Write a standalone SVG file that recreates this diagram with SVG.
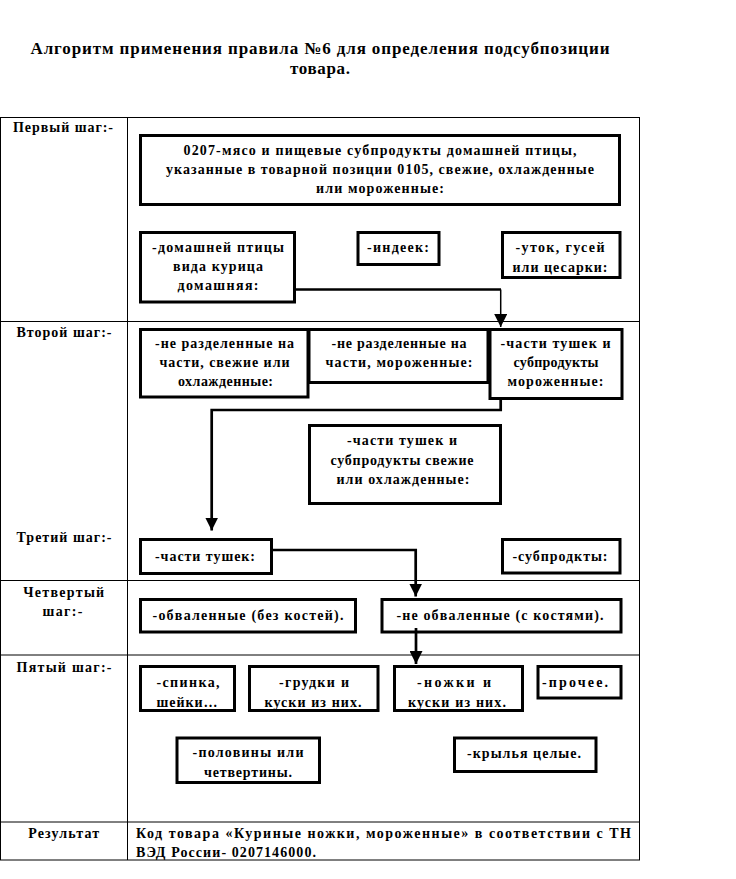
<svg xmlns="http://www.w3.org/2000/svg" width="736" height="879" viewBox="0 0 736 879">
<defs>
<style>
.bg{fill:#fff}
.grid{fill:none;stroke:#000;stroke-width:1}
.box{fill:#fff;stroke:#000;stroke-width:3}
.t{font-family:"Liberation Serif","Times New Roman",serif;font-weight:bold;font-size:14px;text-anchor:middle;fill:#000}
.lbl{font-family:"Liberation Serif","Times New Roman",serif;font-weight:bold;font-size:14px;text-anchor:middle;fill:#000}
.res{font-family:"Liberation Serif","Times New Roman",serif;font-weight:bold;font-size:14px;fill:#000}
.title{font-family:"Liberation Serif","Times New Roman",serif;font-weight:bold;font-size:17px;text-anchor:middle;fill:#000}
.c{fill:none;stroke:#000;stroke-width:2.7}
.thin{fill:none;stroke:#000;stroke-width:1.5}
</style>
<marker id="ah" markerUnits="userSpaceOnUse" markerWidth="13" markerHeight="13" refX="13" refY="6.5" orient="auto">
<path d="M0,0 L13,6.5 L0,13 Z" fill="#000"/>
</marker>
</defs>
<rect class="bg" x="0" y="0" width="736" height="879"/>

<g id="title">
<text class="title" x="320" y="54" textLength="579">Алгоритм применения правила №6 для определения подсубпозиции</text>
<text class="title" x="320" y="74" textLength="60">товара.</text>
</g>

<g id="table">
<rect class="grid" x="0.5" y="117.5" width="639" height="742.5"/>
<line class="grid" x1="127.5" y1="117.5" x2="127.5" y2="860"/>
<line class="grid" x1="0.5" y1="321.5" x2="639.5" y2="321.5"/>
<line class="grid" x1="0.5" y1="580.5" x2="639.5" y2="580.5"/>
<line class="grid" x1="0.5" y1="655" x2="639.5" y2="655"/>
<line class="grid" x1="0.5" y1="822" x2="639.5" y2="822"/>
<text class="lbl" x="63" y="131.5" textLength="100">Первый шаг:-</text>
<text class="lbl" x="64" y="337" textLength="95">Второй шаг:-</text>
<text class="lbl" x="64" y="541.5" textLength="95">Третий шаг:-</text>
<text class="lbl" x="63.7" y="597" textLength="81">Четвертый</text>
<text class="lbl" x="62.5" y="615.5" textLength="40">шаг:-</text>
<text class="lbl" x="64" y="671.5" textLength="95">Пятый шаг:-</text>
<text class="lbl" x="63.7" y="838" textLength="71">Результат</text>
<text class="res" x="136" y="838" textLength="495">Код товара «Куриные ножки, мороженные» в соответствии с ТН</text>
<text class="res" x="136" y="857" textLength="180">ВЭД России- 0207146000.</text>
</g>

<g id="n-main">
<rect class="box" x="140.5" y="135.5" width="479" height="69"/>
<text class="t" x="380" y="155" textLength="393">0207-мясо и пищевые субпродукты домашней птицы,</text>
<text class="t" x="380" y="174" textLength="428">указанные в товарной позиции 0105, свежие, охлажденные</text>
<text class="t" x="380" y="193" textLength="128">или мороженные:</text>
</g>
<g id="n-kuritsa">
<rect class="box" x="140.5" y="232.5" width="154" height="69.5"/>
<text class="t" x="218" y="252" textLength="132">-домашней птицы</text>
<text class="t" x="218" y="271" textLength="90">вида курица</text>
<text class="t" x="218" y="290" textLength="81">домашняя:</text>
</g>
<g id="n-indeek">
<rect class="box" x="358" y="232.5" width="81" height="32"/>
<text class="t" x="398" y="252" textLength="62">-индеек:</text>
</g>
<g id="n-utok">
<rect class="box" x="502.5" y="232.5" width="117.5" height="45"/>
<text class="t" x="560" y="252" textLength="89">-уток, гусей</text>
<text class="t" x="560" y="271.5" textLength="95">или цесарки:</text>
</g>

<g id="n-nerazd-moroz">
<rect class="box" x="309" y="329.5" width="179" height="53"/>
<text class="t" x="399" y="348" textLength="135">-не разделенные на</text>
<text class="t" x="399" y="367" textLength="147">части, мороженные:</text>
</g>
<g id="n-nerazd-svezh">
<rect class="box" x="140.5" y="329.5" width="167.5" height="67.5"/>
<text class="t" x="224.5" y="348" textLength="139">-не разделенные на</text>
<text class="t" x="224.5" y="367" textLength="130">части, свежие или</text>
<text class="t" x="225.5" y="386" textLength="95">охлажденные:</text>
</g>
<g id="n-chasti-moroz">
<rect class="box" x="490" y="329.5" width="132" height="69"/>
<text class="t" x="555.5" y="348" textLength="110">-части тушек и</text>
<text class="t" x="556" y="367" textLength="85">субпродукты</text>
<text class="t" x="555.5" y="386" textLength="96">мороженные:</text>
</g>
<g id="n-chasti-svezh">
<rect class="box" x="309.5" y="425.5" width="191" height="78"/>
<text class="t" x="402" y="445" textLength="110">-части тушек и</text>
<text class="t" x="402" y="465" textLength="143">субпродукты свежие</text>
<text class="t" x="403" y="484" textLength="133">или охлажденные:</text>
</g>

<g id="n-chasti-tushek">
<rect class="box" x="140.5" y="539.5" width="131" height="34"/>
<text class="t" x="205" y="561" textLength="100">-части тушек:</text>
</g>
<g id="n-subprodukty">
<rect class="box" x="502.5" y="539.5" width="117.5" height="33.5"/>
<text class="t" x="560" y="561" textLength="95">-субпродкты:</text>
</g>

<g id="n-obvalennye">
<rect class="box" x="140.5" y="599.5" width="215" height="32.5"/>
<text class="t" x="248" y="620" textLength="191">-обваленные  (без костей).</text>
</g>
<g id="n-ne-obvalennye">
<rect class="box" x="382" y="599.5" width="239" height="32.5"/>
<text class="t" x="500" y="620" textLength="207">-не обваленные  (с костями).</text>
</g>

<g id="n-spinka">
<rect class="box" x="140.5" y="666.5" width="94" height="44"/>
<text class="t" x="188" y="686.5" textLength="63">-спинка,</text>
<text class="t" x="187" y="706.5" textLength="61">шейки…</text>
</g>
<g id="n-grudki">
<rect class="box" x="249.5" y="666.5" width="128.5" height="44"/>
<text class="t" x="314" y="686.5" textLength="70">-грудки и</text>
<text class="t" x="313" y="706.5" textLength="97">куски из них.</text>
</g>
<g id="n-nozhki">
<rect class="box" x="394.5" y="666.5" width="128" height="44"/>
<text class="t" x="454" y="686.5" textLength="74">-ножки и</text>
<text class="t" x="457" y="706.5" textLength="98">куски из них.</text>
</g>
<g id="n-prochee">
<rect class="box" x="538" y="666.5" width="83" height="31.5"/>
<text class="t" x="575" y="686.5" textLength="66">-прочее.</text>
</g>
<g id="n-poloviny">
<rect class="box" x="177" y="738" width="142.5" height="44.5"/>
<text class="t" x="248" y="757" textLength="111">-половины или</text>
<text class="t" x="248" y="777" textLength="88">четвертины.</text>
</g>
<g id="n-krylya">
<rect class="box" x="454.5" y="738" width="141.5" height="33.5"/>
<text class="t" x="524" y="757.5" textLength="114">-крылья целые.</text>
</g>

<g id="connectors">
<path class="c" d="M296,289.5 H501"/>
<path class="thin" d="M500.7,289.5 V327" marker-end="url(#ah)"/>
<path class="c" d="M500.7,400 V410 H211.7 V530.5" marker-end="url(#ah)"/>
<path class="c" d="M273,550 H415.7 V596.5" marker-end="url(#ah)"/>
<path class="c" d="M416,628 V664" marker-end="url(#ah)"/>
</g>
</svg>
